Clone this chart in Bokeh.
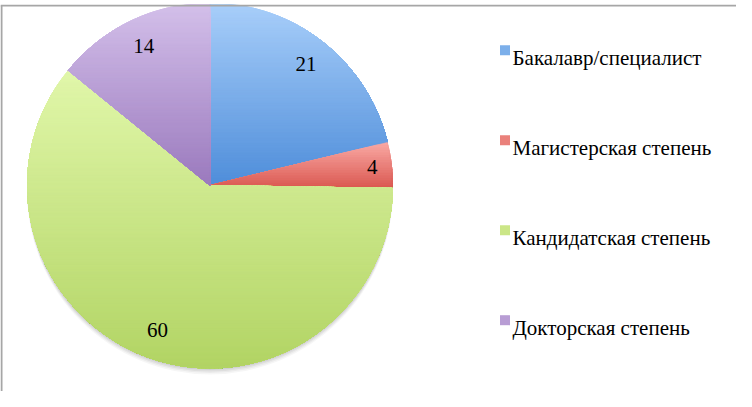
import numpy as np
from bokeh.plotting import figure
from bokeh.models import Range1d, ColumnDataSource
from bokeh.core.properties import value
from bokeh.embed import file_html
from bokeh.resources import INLINE

# ---- data ----
categories = ["Бакалавр/специалист", "Магистерская степень",
              "Кандидатская степень", "Докторская степень"]
values = [21, 4, 60, 14]

# ---- styles ----
top_colors = ["#a9cffa", "#faaaa6", "#e1f7aa", "#d4c0ea"]
bottom_colors = ["#4f8eda", "#da5850", "#b2d464", "#9b7abe"]
mid_colors = ["#7cafea", "#ea817b", "#cbe687", "#b89dd4"]
label_rfrac = [0.85, 0.894, 0.84, 0.845]

W, H = 736, 391
p = figure(width=W, height=H, output_backend="svg", toolbar_location=None,
           x_range=Range1d(0, 736), y_range=Range1d(0, 387),
           x_axis_location=None, y_axis_location=None,
           min_border_left=0, min_border_right=0, min_border_bottom=0,
           min_border_top=4)
p.grid.visible = False
p.outline_line_color = None
p.background_fill_color = "white"

cx, cy, R = 209.5, 206.0, 182.5

vals = np.array(values, dtype=float)
cum = np.concatenate([[0], np.cumsum(vals)]) / vals.sum()
starts = np.pi / 2 - 2 * np.pi * cum[:-1]
ends = np.pi / 2 - 2 * np.pi * cum[1:]

# soft shadow
for dy, dr, a in [(6, 0.5, 0.035), (4.5, 0.5, 0.045), (3, 0.5, 0.055), (1.5, 0.5, 0.06)]:
    p.circle(x=cx, y=cy - dy, radius=R + dr, fill_color="#000000",
             fill_alpha=a, line_color=None)

src = ColumnDataSource(dict(start=starts, end=ends, color=mid_colors,
                            label=categories))
p.wedge(x=cx, y=cy, radius=R, start_angle="start", end_angle="end",
        direction="clock", fill_color="color", line_color="color",
        line_width=0.5, source=src)


def hex2rgb(h):
    h = h.lstrip("#")
    return np.array([int(h[i:i + 2], 16) for i in (0, 2, 4)], dtype=float)


def rgb2hex(c):
    return "#%02x%02x%02x" % tuple(int(round(v)) for v in c)


def clip_below(xs, ys, yc):
    out_x, out_y = [], []
    n = len(xs)
    for i in range(n):
        x1, y1 = xs[i], ys[i]
        x2, y2 = xs[(i + 1) % n], ys[(i + 1) % n]
        in1, in2 = y1 <= yc, y2 <= yc
        if in1:
            out_x.append(x1)
            out_y.append(y1)
        if in1 != in2:
            t = (yc - y1) / (y2 - y1)
            out_x.append(x1 + t * (x2 - x1))
            out_y.append(yc)
    return out_x, out_y


# vertical gradient inside every slice, built from the slice geometry
pxs, pys, pcols = [], [], []
for i in range(len(values)):
    a = np.linspace(starts[i], ends[i], 160)
    xs = [cx] + list(cx + R * np.cos(a))
    ys = [cy] + list(cy + R * np.sin(a))
    ymin, ymax = min(ys), max(ys)
    nb = max(int((ymax - ymin) / 2.5), 2)
    c0, c1 = hex2rgb(top_colors[i]), hex2rgb(bottom_colors[i])
    for k in range(nb):
        yc = ymax - k * (ymax - ymin) / nb + 0.01
        bx, by = clip_below(xs, ys, yc)
        if len(bx) < 3:
            continue
        t = (k + 0.5) / nb
        col = rgb2hex(c0 + (c1 - c0) * t)
        pxs.append(bx)
        pys.append(by)
        pcols.append(col)

p.patches(xs=pxs, ys=pys, fill_color=pcols, line_color=pcols, line_width=0.6)

# data labels
mids = (starts + ends) / 2
lx = cx + R * np.array(label_rfrac) * np.cos(mids)
ly = cy + R * np.array(label_rfrac) * np.sin(mids)
p.text(x=lx, y=ly, text=[str(v) for v in values],
       text_font=value("Liberation Serif"), text_font_size="21px",
       text_align="center", text_baseline="middle", text_color="black")

# chart area border (left and top edges visible)
p.line(x=[1, 1], y=[0, 386], line_color="#a6a6a6", line_width=2)
p.line(x=[0, 736], y=[386, 386], line_color="#a6a6a6", line_width=2)

# legend (markers sit slightly above the text line, as in the original)
idx = np.arange(len(categories))
leg_marker_y = 341.3 - 90 * idx
leg_text_y = 333.4 - 90 * idx
leg_src = ColumnDataSource(dict(mx=np.full(len(idx), 504.5), my=leg_marker_y,
                                tx=np.full(len(idx), 512.0), ty=leg_text_y,
                                color=mid_colors, label=categories))
p.rect(x="mx", y="my", width=10, height=10, width_units="screen",
       height_units="screen", fill_color="color", line_color=None,
       source=leg_src)
p.text(x="tx", y="ty", text="label", source=leg_src,
       text_font=value("Liberation Serif"), text_font_size="21px",
       text_align="left", text_baseline="middle", text_color="black")

open("out.html", "w").write(file_html(p, INLINE))
